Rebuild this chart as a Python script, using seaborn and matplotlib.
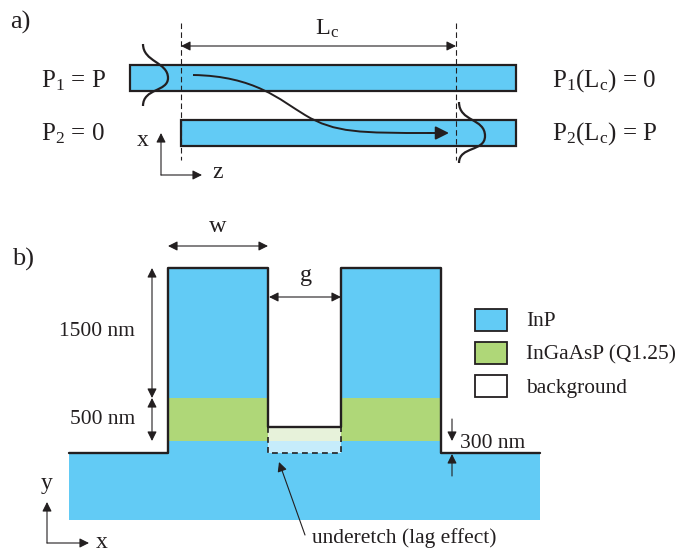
import pandas as pd
import matplotlib.pyplot as plt
from matplotlib.patches import PathPatch, Rectangle
from matplotlib.path import Path
import seaborn as sns

BLUE = "#62cbf5"
GREEN = "#afd778"
LIGHT_GREEN = "#e7f2da"
LIGHT_BLUE = "#c6ecfb"
INK = "#231f20"

guide_x = [130, 181]
guide_y = [65, 120]
guide_right = 516
guide_h = 26

# bezier control points: start, then three per segment
mode_in = [(143, 44), (143, 62), (168, 62), (168, 78), (168, 92), (143, 88), (143, 106)]
mode_out = [(459, 102), (459, 122), (485, 118), (485, 136), (485, 152), (459, 146), (459, 163)]
transfer = [(193, 75), (255, 76), (280, 100), (305, 115), (335, 133), (360, 133), (432, 133)]

profile_x = [69, 168, 168, 268, 268, 341, 341, 441, 441, 540]
profile_y = [453, 453, 268, 268, 427, 427, 268, 268, 453, 453]
underetch_x = [268, 268, 341, 341]
underetch_y = [427, 453, 453, 427]

legend_labels = ["InP", "InGaAsP (Q1.25)", "background"]
legend_colors = [BLUE, GREEN, "white"]
legend_y = [309, 342, 375]

sns.set_theme(style="white")
plt.rcParams["font.family"] = ["Liberation Serif", "DejaVu Serif"]
plt.rcParams["mathtext.fontset"] = "custom"
plt.rcParams["mathtext.rm"] = "Liberation Serif"
plt.rcParams["mathtext.default"] = "rm"

fig = plt.figure(figsize=(6.79, 5.57), dpi=100)
ax = fig.add_axes([0, 0, 1, 1])
ax.set_xlim(0, 679)
ax.set_ylim(557, 0)
ax.axis("off")


def line(xs, ys, lw=1.5, ls="-", color=INK, z=5):
    df = pd.DataFrame({"x": xs, "y": ys})
    sns.lineplot(data=df, x="x", y="y", ax=ax, sort=False, estimator=None,
                 color=color, lw=lw, ls=ls, zorder=z)


def bezier(points, lw=1.6):
    codes = [Path.MOVETO] + [Path.CURVE4] * (len(points) - 1)
    ax.add_patch(PathPatch(Path(points, codes), fc="none", ec=INK, lw=lw, zorder=5))


def arrow(x0, y0, x1, y1, style="-|>", lw=0.8, scale=14):
    ax.annotate("", xy=(x1, y1), xytext=(x0, y0), zorder=6,
                arrowprops=dict(arrowstyle=style, color=INK, lw=lw, shrinkA=0, shrinkB=0,
                                mutation_scale=scale))


def rect(x0, y0, x1, y1, color, edge="none", lw=0.0, z=1):
    ax.add_patch(Rectangle((x0, y0), x1 - x0, y1 - y0, fc=color, ec=edge, lw=lw, zorder=z))


# a) coupler
for x0, y0 in zip(guide_x, guide_y):
    rect(x0, y0, guide_right, y0 + guide_h, BLUE, INK, 1.6)
line([181, 181], [23, 160], lw=0.8, ls=(0, (5, 3)))
line([456, 456], [23, 160], lw=0.8, ls=(0, (5, 3)))
bezier(mode_in)
bezier(mode_out)
bezier(transfer, lw=1.4)
arrow(428, 133, 449, 133, lw=1.4, scale=20)
arrow(181, 46, 456, 46, "<|-|>")
arrow(161, 175, 161, 133)
arrow(161, 175, 202, 175)

# b) cross section
rect(69, 453, 540, 520, BLUE)
rect(168, 268, 268, 453, BLUE)
rect(341, 268, 441, 453, BLUE)
rect(168, 398, 268, 441, GREEN, z=2)
rect(341, 398, 441, 441, GREEN, z=2)
rect(268, 427, 341, 441, LIGHT_GREEN, z=2)
rect(268, 441, 341, 453, LIGHT_BLUE, z=2)
line(profile_x, profile_y, lw=1.7)
line(underetch_x, underetch_y, lw=1.2, ls=(0, (3.5, 2.5)))

arrow(168, 246, 268, 246, "<|-|>")
arrow(269, 297, 341, 297, "<|-|>")
arrow(152, 268, 152, 398, "<|-|>")
arrow(152, 398, 152, 441, "<|-|>")
arrow(452, 419, 452, 441)
arrow(452, 476, 452, 454)
arrow(305, 535, 279, 462)
arrow(47, 543, 47, 502)
arrow(47, 543, 89, 543)

for label, color, y0 in zip(legend_labels, legend_colors, legend_y):
    rect(475, y0, 507, y0 + 22, color, INK, 1.3)
    ax.text(526, y0 + 13, label, fontsize=15.4, color=INK, va="center")

texts = [
    (10, 22, "a)", "left", 19),
    (12, 259, "b)", "left", 19),
    (327, 29, r"L$_c$", "center", 17.5),
    (41, 81, r"P$_1$ = P", "left", 18),
    (41, 134, r"P$_2$ = 0", "left", 18),
    (552, 81, r"P$_1$(L$_c$) = 0", "left", 18),
    (552, 134, r"P$_2$(L$_c$) = P", "left", 18),
    (143, 141, "x", "center", 17),
    (218, 173, "z", "center", 17),
    (218, 226, "w", "center", 17.5),
    (306, 275, "g", "center", 17.5),
    (135, 331, "1500 nm", "right", 15.5),
    (135, 419, "500 nm", "right", 15.5),
    (460, 443, "300 nm", "left", 15.5),
    (47, 484, "y", "center", 17),
    (102, 543, "x", "center", 17),
    (312, 538, "underetch (lag effect)", "left", 15.4),
]
for x, y, s, ha, size in texts:
    ax.text(x, y, s, ha=ha, va="center", fontsize=size, color=INK)

fig.savefig("out.png", dpi=100)
